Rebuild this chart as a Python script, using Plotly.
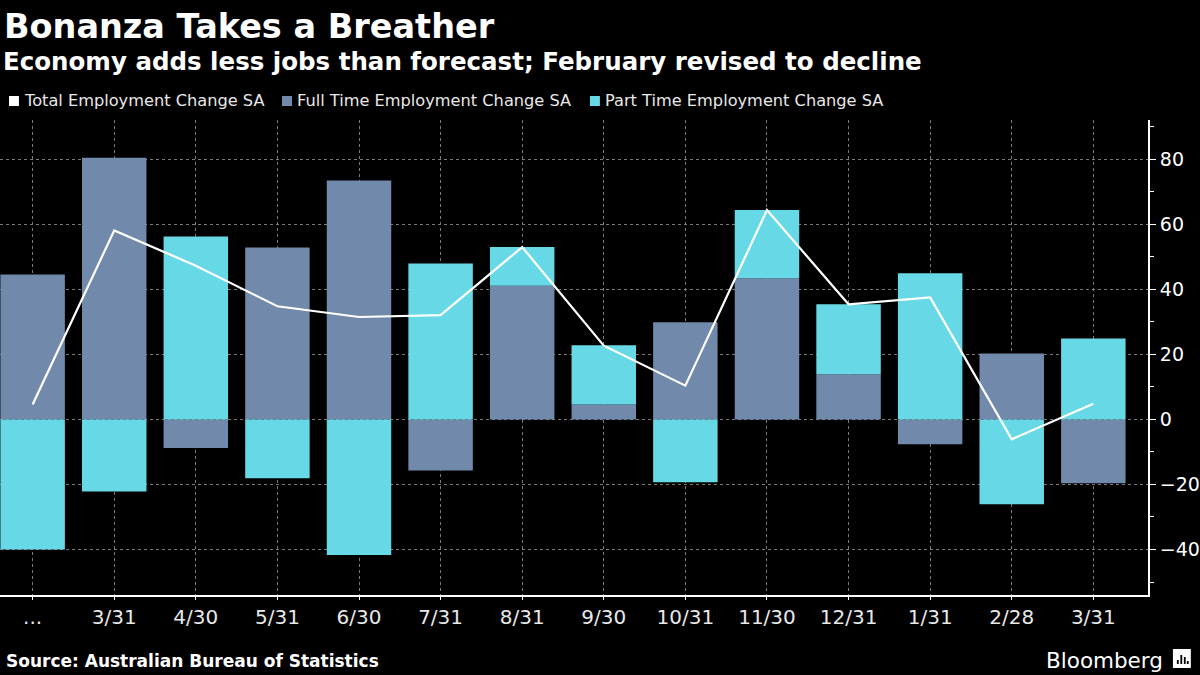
import plotly.graph_objects as go

# ---- data ----
dates = ["...", "3/31", "4/30", "5/31", "6/30", "7/31", "8/31", "9/30",
         "10/31", "11/30", "12/31", "1/31", "2/28", "3/31"]
full_time = [44.6, 80.5, -8.8, 52.9, 73.5, -15.7, 41.1, 4.6, 29.9, 43.4, 13.9, -7.6, 20.3, -19.6]
part_time = [-40.0, -22.2, 56.3, -18.1, -41.7, 48.0, 11.9, 18.2, -19.3, 21.0, 21.5, 45.0, -26.1, 24.9]
total = [4.6, 58.1, 47.3, 34.8, 31.5, 32.1, 53.0, 22.7, 10.4, 64.4, 35.4, 37.5, -6.1, 4.8]
y_ticks = [-40, -20, 0, 20, 40, 60, 80]
series_names = ["Total Employment Change SA", "Full Time Employment Change SA",
                "Part Time Employment Change SA"]

W, H = 1200, 675
ML, MR, MT, MB = 0, 48, 120, 80
PW, PH = W - ML - MR, H - MT - MB


def px(x):
    return (x - ML) / PW


def py(y):
    return (H - MB - y) / PH


TOTAL_COLOR = "white"
FT_COLOR = "#7189aa"
PT_COLOR = "#67d9e6"
FONT = "DejaVu Sans"

xs = list(range(len(dates)))

fig = go.Figure()
fig.add_trace(go.Bar(x=xs, y=full_time, marker=dict(color=FT_COLOR, line=dict(width=0)),
                     name=series_names[1], showlegend=False))
fig.add_trace(go.Bar(x=xs, y=part_time, marker=dict(color=PT_COLOR, line=dict(width=0)),
                     name=series_names[2], showlegend=False))
fig.add_trace(go.Scatter(x=xs, y=total, mode="lines", line=dict(color=TOTAL_COLOR, width=2.2),
                         name=series_names[0], showlegend=False))

grid = dict(gridcolor="#7a7a7a", griddash="3px,3px", gridwidth=1)

fig.update_layout(
    width=W, height=H,
    paper_bgcolor="black", plot_bgcolor="black",
    margin=dict(l=ML, r=MR, t=MT, b=MB),
    barmode="relative", bargap=0.21,
    font=dict(family=FONT, color="white"),
    showlegend=False,
    xaxis=dict(range=[-0.4, 13.67], tickmode="array", tickvals=xs, ticktext=dates,
               showline=True, linecolor="white", linewidth=2,
               ticks="outside", ticklen=3, tickcolor="white",
               tickfont=dict(family=FONT, size=20, color="#e8e8e8"),
               zeroline=False, showgrid=True, **grid),
    yaxis=dict(side="right", range=[-54.0, 92.1], tickvals=y_ticks,
               showline=True, linecolor="white", linewidth=2,
               ticks="outside", ticklen=6, tickcolor="white",
               minor=dict(dtick=10, ticklen=4, tickcolor="white", ticks="outside", showgrid=False),
               tickfont=dict(family=FONT, size=19, color="white"),
               zeroline=False, showgrid=True, **grid),
)

ann = [
    dict(text="<b>Bonanza Takes a Breather</b>", x=px(2), y=py(5), xanchor="left", yanchor="top",
         font=dict(family=FONT, size=33.5, color="white")),
    dict(text="<b>Economy adds less jobs than forecast; February revised to decline</b>",
         x=px(1), y=py(45), xanchor="left", yanchor="top",
         font=dict(family=FONT, size=24.5, color="white")),
    dict(text="<b>Source: Australian Bureau of Statistics</b>", x=px(4), y=py(661),
         xanchor="left", yanchor="middle", font=dict(family=FONT, size=17, color="white")),
    dict(text="Bloomberg", x=px(1169), y=py(660), xanchor="right", yanchor="middle",
         font=dict(family=FONT, size=21.5, color="white")),
]

# legend (square swatch + label)
legend_sq_x = [9, 283, 592]
legend_colors = [TOTAL_COLOR, FT_COLOR, PT_COLOR]
for lx, col, nm in zip(legend_sq_x, legend_colors, series_names):
    fig.add_shape(type="rect", xref="paper", yref="paper",
                  x0=px(lx), x1=px(lx + 10), y0=py(96), y1=py(106),
                  fillcolor=col, line=dict(width=0))
    ann.append(dict(text=nm, x=px(lx + 13), y=py(101), xanchor="left", yanchor="middle",
                    font=dict(family=FONT, size=16.2, color="#e8e8e8")))

for a in ann:
    a.update(xref="paper", yref="paper", showarrow=False)
fig.update_layout(annotations=ann)

# Bloomberg logo mark
fig.add_shape(type="rect", xref="paper", yref="paper",
              x0=px(1177), x1=px(1195), y0=py(649), y1=py(668),
              fillcolor="white", line=dict(width=0))
for bx, btop in [(1181, 660), (1184.5, 655), (1188, 657), (1191, 661)]:
    fig.add_shape(type="rect", xref="paper", yref="paper",
                  x0=px(bx), x1=px(bx + 1.8), y0=py(btop), y1=py(664),
                  fillcolor="black", line=dict(width=0))

fig.write_html("out.html", config={"displayModeBar": False},
               post_script="document.body.style.margin='0';")
